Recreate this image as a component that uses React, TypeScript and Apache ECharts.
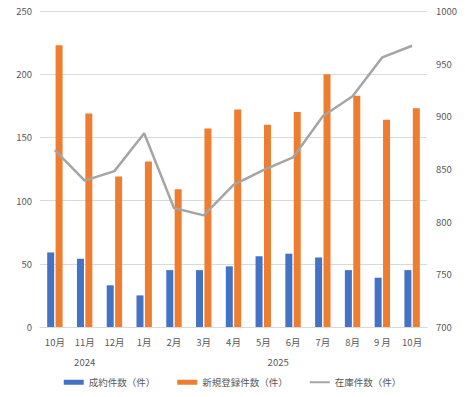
import React, { useEffect, useRef } from "react";
import * as echarts from "echarts";

const months = ["10月", "11月", "12月", "1月", "2月", "3月", "4月", "5月", "6月", "7月", "8月", "9 月", "10月"];
const years = ["2024", "2025"];
const yearCounts = [3, 10];
const contracts = [59, 54, 33, 25, 45, 45, 48, 56, 58, 55, 45, 39, 45];
const registrations = [223, 169, 119, 131, 109, 157, 172, 160, 170, 200, 183, 164, 173];
const inventory = [868, 839, 848, 884, 813, 806, 835, 849, 861, 900, 919, 956, 967];

const FONT = "'Noto Sans CJK JP', 'Noto Sans', sans-serif";
const TXT = "#595959";

export default function App() {
  const ref = useRef<HTMLDivElement>(null);
  useEffect(() => {
    document.body.style.margin = "0";
    const chart = echarts.init(ref.current!, undefined, { renderer: "svg" });
    const yearCenters: number[] = [];
    let acc = 0;
    yearCounts.forEach((c) => {
      yearCenters.push(acc + c / 2);
      acc += c;
    });
    chart.setOption({
      animation: false,
      textStyle: { fontFamily: FONT },
      grid: { left: 40, right: 38, top: 11, bottom: 70 },
      legend: {
        bottom: 5,
        left: "center",
        itemWidth: 20,
        itemHeight: 5,
        itemGap: 22,
        textStyle: { fontSize: 9.5, color: TXT, fontFamily: FONT },
        data: [
          { name: "成約件数（件）", icon: "rect" },
          { name: "新規登録件数（件）", icon: "rect" },
          { name: "在庫件数（件）", icon: "path://M0,0L20,0L20,2L0,2Z" },
        ],
      },
      xAxis: [
        {
          type: "category",
          data: months,
          axisLine: { lineStyle: { color: "#d9d9d9" } },
          axisTick: { show: false },
          axisLabel: { color: TXT, fontSize: 9.5, margin: 10 },
        },
        {
          type: "value",
          min: 0,
          max: acc,
          position: "bottom",
          offset: 22,
          axisLine: { show: false },
          axisTick: { show: false },
          splitLine: { show: false },
          axisLabel: {
            color: TXT,
            fontSize: 9.5,
            customValues: yearCenters,
            formatter: (v: number) => {
              const i = yearCenters.findIndex((c) => Math.abs(c - v) < 1e-6);
              return i >= 0 ? years[i] : "";
            },
          },
        },
      ],
      yAxis: [
        {
          type: "value",
          min: 0,
          max: 250,
          interval: 50,
          axisLine: { show: false },
          axisTick: { show: false },
          axisLabel: { color: TXT, fontSize: 9.5, margin: 8 },
          splitLine: { lineStyle: { color: "#d9d9d9" } },
        },
        {
          type: "value",
          min: 700,
          max: 1000,
          interval: 50,
          axisLine: { show: false },
          axisTick: { show: false },
          axisLabel: { color: TXT, fontSize: 9.5, margin: 9, formatter: (v: number) => String(v) },
          splitLine: { show: false },
        },
      ],
      series: [
        {
          name: "成約件数（件）",
          type: "bar",
          data: contracts,
          barWidth: 7,
          barGap: "20%",
          itemStyle: { color: "#4472C4" },
        },
        {
          name: "新規登録件数（件）",
          type: "bar",
          data: registrations,
          barWidth: 7,
          itemStyle: { color: "#ED7D31" },
        },
        {
          name: "在庫件数（件）",
          type: "line",
          yAxisIndex: 1,
          data: inventory,
          symbol: "none",
          lineStyle: { color: "#A5A5A5", width: 2.5 },
          itemStyle: { color: "#A5A5A5" },
        },
      ],
    });
    return () => chart.dispose();
  }, []);
  return <div ref={ref} style={{ width: 465, height: 397, position: "absolute", left: 0, top: 0 }} />;
}
